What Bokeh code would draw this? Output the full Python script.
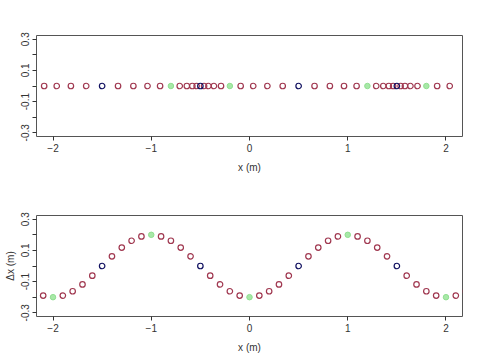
import math
from bokeh.plotting import figure
from bokeh.layouts import column
from bokeh.models import FixedTicker, Range1d, ColumnDataSource
from bokeh.embed import file_html
from bokeh.resources import INLINE

# equilibrium positions (m)
x_eq = [-2.2, -2.1, -2.0, -1.9, -1.8, -1.7, -1.6, -1.5, -1.4, -1.3, -1.2, -1.1,
        -1.0, -0.9, -0.8, -0.7, -0.6, -0.5, -0.4, -0.3, -0.2, -0.1, 0.0,
        0.1, 0.2, 0.3, 0.4, 0.5, 0.6, 0.7, 0.8, 0.9, 1.0, 1.1, 1.2, 1.3,
        1.4, 1.5, 1.6, 1.7, 1.8, 1.9, 2.0, 2.1, 2.2]
# displacements (m)
dx = [-0.162, -0.190, -0.200, -0.190, -0.162, -0.118, -0.062, 0.000, 0.062, 0.118, 0.162, 0.190,
      0.200, 0.190, 0.162, 0.118, 0.062, 0.000, -0.062, -0.118, -0.162, -0.190, -0.200,
      -0.190, -0.162, -0.118, -0.062, 0.000, 0.062, 0.118, 0.162, 0.190, 0.200, 0.190, 0.162, 0.118,
      0.062, 0.000, -0.062, -0.118, -0.162, -0.190, -0.200, -0.190, -0.162]
# marker category: peak / node / other
kind = []
for xv in x_eq:
    r = round(xv * 10)
    if r % 10 == 0:
        kind.append("peak")
    elif r % 5 == 0:
        kind.append("node")
    else:
        kind.append("other")

y_ticks = [-0.3, -0.2, -0.1, 0.0, 0.1, 0.2, 0.3]
y_tick_labels = {-0.3: "-0.3", -0.2: "", -0.1: "-0.1", 0.0: "", 0.1: "0.1", 0.2: "", 0.3: "0.3"}
x_ticks = [-2, -1, 0, 1, 2]
x_label = "x (m)"
y_label_bottom = "\u0394x (m)"

line_col = {"peak": "#90e090", "node": "#101060", "other": "#a03850"}
fill_col = {"peak": "#a8e8a8", "node": None, "other": None}

pos = [a + b for a, b in zip(x_eq, dx)]
zeros = [0.0] * len(x_eq)

FONT = "Liberation Sans"


def make(ys, xs, ylab):
    p = figure(frame_width=426, frame_height=101, output_backend="svg",
               toolbar_location=None, x_range=Range1d(-2.168, 2.168),
               y_range=Range1d(-0.324, 0.324),
               min_border_left=36, min_border_right=18, min_border_top=35,
               min_border_bottom=44)
    p.xgrid.visible = False
    p.ygrid.visible = False
    p.outline_line_color = "#555555"
    p.outline_line_width = 1
    p.background_fill_color = "white"
    p.border_fill_color = "white"
    for k in ["other", "node", "peak"]:
        idx = [i for i, kk in enumerate(kind) if kk == k]
        src = ColumnDataSource(dict(x=[xs[i] for i in idx], y=[ys[i] for i in idx]))
        if fill_col[k]:
            p.scatter("x", "y", source=src, size=5.5, line_color=line_col[k],
                      fill_color=fill_col[k], line_width=1)
        else:
            p.scatter("x", "y", source=src, size=5.5, line_color=line_col[k],
                      fill_color=None, line_width=1.2)
    p.xaxis.ticker = FixedTicker(ticks=x_ticks)
    p.yaxis.ticker = FixedTicker(ticks=y_ticks)
    p.yaxis.major_label_overrides = y_tick_labels
    p.yaxis.major_label_orientation = "vertical"
    for ax in (p.xaxis, p.yaxis):
        ax.axis_line_color = None
        ax.major_tick_line_color = "#333333"
        ax.major_tick_out = 4
        ax.major_tick_in = 0
        ax.minor_tick_line_color = None
        ax.major_label_text_font = FONT
        ax.major_label_text_font_size = "7.5pt"
        ax.major_label_text_color = "#333333"
        ax.axis_label_text_font = FONT
        ax.axis_label_text_font_size = "7.5pt"
        ax.axis_label_text_font_style = "normal"
        ax.axis_label_text_color = "#333333"
        ax.major_label_standoff = 3
    p.xaxis.axis_label = x_label
    p.xaxis.axis_label_standoff = 7
    if ylab:
        p.yaxis.axis_label = ylab
        p.yaxis.axis_label_standoff = 3
    return p


top = make(zeros, pos, None)
bottom = make(dx, x_eq, y_label_bottom)
layout = column(top, bottom, spacing=0)
open("out.html", "w").write(file_html(layout, INLINE))
